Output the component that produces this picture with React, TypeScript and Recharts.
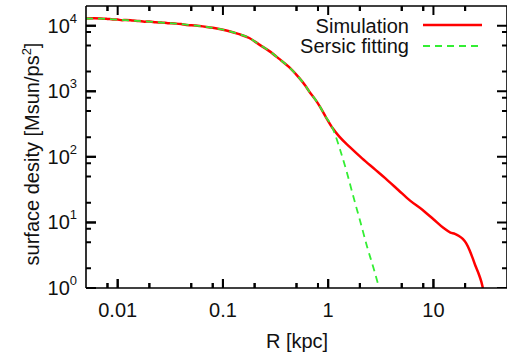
import React from "react";
import { ComposedChart, Line, Scatter, XAxis, YAxis, ReferenceLine } from "recharts";

const FONT = "'Liberation Sans', Arial, Helvetica, sans-serif";
const INK = "#111";

// surface density profile from the simulation (R in kpc)
const simR = [
  0.005, 0.006, 0.007, 0.008, 0.009, 0.01, 0.011, 0.012, 0.014, 0.016, 0.018, 0.02, 0.023, 0.026, 0.03,
  0.035, 0.04, 0.045, 0.05, 0.06, 0.07, 0.08, 0.09, 0.1, 0.115, 0.14, 0.178, 0.22, 0.276, 0.34, 0.426,
  0.53, 0.6, 0.658, 0.75, 0.84, 0.95, 1.1, 1.27, 1.6, 2.1, 2.8, 3.5, 4.66, 6, 7.9, 10, 12.5, 14.5, 16,
  17.5, 19, 20.5, 22, 23.5, 25, 26.9, 28.5, 29.5,
];
const simS = [
  12900, 13000, 12900, 12700, 12500, 12400, 12150, 12250, 12000, 11800, 11550, 11600, 11300, 11200, 10950,
  10800, 10600, 10250, 10150, 9900, 9600, 9300, 9000, 8700, 8250, 7500, 6500, 5200, 4100, 3150, 2330,
  1600, 1250, 1000, 760, 575, 405, 275, 205, 142, 95, 64, 47, 31, 21.5, 15.5, 11.2, 8.2, 7.0, 6.7,
  6.2, 5.6, 4.8, 3.8, 2.9, 2.2, 1.65, 1.25, 1.0,
];

// Sersic fit
const fitR = [
  0.005, 0.007, 0.01, 0.015, 0.02, 0.03, 0.04, 0.05, 0.07, 0.1, 0.14, 0.178, 0.22, 0.276, 0.34, 0.426,
  0.53, 0.6, 0.658, 0.75, 0.84, 0.95, 1.05, 1.15, 1.3, 1.5, 1.75, 2.0, 2.35, 2.7, 3.05,
];
const fitS = [
  12900, 12800, 12400, 11900, 11550, 11000, 10600, 10200, 9600, 8700, 7500, 6500, 5200, 4100, 3150, 2330,
  1600, 1250, 1000, 760, 575, 405, 320, 230, 127, 59, 23.5, 10.9, 4.2, 2.0, 1.0,
];

const xMajor = [0.01, 0.1, 1, 10];
const xMinor = [0.008, 0.02, 0.05, 0.08, 0.2, 0.5, 0.8, 2, 5, 8, 20];
const yMajor = [1, 10, 100, 1000, 10000];
const yMinor = [2, 5, 8, 20, 50, 80, 200, 500, 800, 2000, 5000, 8000];

const X_DOMAIN = [0.005, 50];
const Y_DOMAIN = [1, 20000];

const simData = simR.map((r, i) => ({ r, s: simS[i] }));
const fitData = fitR.map((r, i) => ({ r, s: fitS[i] }));
// tick anchors on the bottom and left edges of the box
const xTickData = [
  ...xMajor.map((r) => ({ r, s: Y_DOMAIN[0], len: 9 })),
  ...xMinor.map((r) => ({ r, s: Y_DOMAIN[0], len: 5 })),
];
const yTickData = [
  ...yMajor.map((s) => ({ r: X_DOMAIN[0], s, len: 10 })),
  ...yMinor.map((s) => ({ r: X_DOMAIN[0], s, len: 5 })),
];

const PLOT_TOP = 6;
const PLOT_RIGHT = 507;
const border = { stroke: "#000", strokeWidth: 1.6 };
const blank = () => "";

// vertical tick on bottom edge, mirrored on top edge
const XTickMark = (p: any) => {
  const { cx, cy, payload } = p;
  const len = payload.len;
  return (
    <path
      d={`M${cx},${cy}L${cx},${cy - len}M${cx},${PLOT_TOP}L${cx},${PLOT_TOP + len}`}
      stroke="#000"
      strokeWidth={2}
      fill="none"
    />
  );
};

// horizontal tick on left edge, mirrored on right edge
const YTickMark = (p: any) => {
  const { cx, cy, payload } = p;
  const len = payload.len;
  return (
    <path
      d={`M${cx},${cy}L${cx + len},${cy}M${PLOT_RIGHT},${cy}L${PLOT_RIGHT - len},${cy}`}
      stroke="#000"
      strokeWidth={2}
      fill="none"
    />
  );
};

const BottomLabel = (props: any) => {
  const { x, y, payload } = props;
  return (
    <text x={x} y={y + 29} textAnchor="middle" fontSize={20} fontFamily={FONT} fill={INK}>
      {String(payload.value)}
    </text>
  );
};

const LeftLabel = (props: any) => {
  const { x, y, payload } = props;
  return (
    <text x={x - 9} y={y + 7} textAnchor="end" fontFamily={FONT} fill={INK}>
      <tspan fontSize={20}>10</tspan>
      <tspan fontSize={13} dy={-10}>
        {Math.round(Math.log10(payload.value))}
      </tspan>
    </text>
  );
};

const XLabel = () => (
  <text x={297} y={348} textAnchor="middle" fontSize={20} fontFamily={FONT} fill={INK}>
    R [kpc]
  </text>
);

const YLabel = () => (
  <text
    x={39}
    y={154}
    transform="rotate(-90, 39, 154)"
    textAnchor="middle"
    fontSize={20}
    fontFamily={FONT}
    fill={INK}
  >
    surface desity [Msun/ps
    <tspan fontSize={13} dy={-8}>
      2
    </tspan>
    <tspan dy={8}>]</tspan>
  </text>
);

const LegendBox = () => (
  <svg width={260} height={62} style={{ position: "absolute", left: 250, top: 0, display: "block" }}>
    <text x={159} y={33} textAnchor="end" fontSize={20} fontFamily={FONT} fill={INK}>
      Simulation
    </text>
    <line x1={173} x2={232} y1={25} y2={25} stroke="#ff0000" strokeWidth={2.5} />
    <text x={159} y={53} textAnchor="end" fontSize={20} fontFamily={FONT} fill={INK}>
      Sersic fitting
    </text>
    <line x1={173} x2={232} y1={46} y2={46} stroke="#33ee33" strokeWidth={1.8} strokeDasharray="7 5" />
  </svg>
);

export default function App() {
  return (
    <div style={{ position: "absolute", left: 0, top: 0, width: 507, height: 356, background: "#fff" }}>
      <ComposedChart width={507} height={356} margin={{ top: 5, right: -1, bottom: 0, left: 0 }}>
        <XAxis
          xAxisId="bottom"
          dataKey="r"
          type="number"
          scale="log"
          domain={X_DOMAIN}
          allowDataOverflow
          ticks={xMajor}
          interval={0}
          height={68}
          tickSize={-9}
          tickMargin={9}
          tickLine={{ stroke: "#000", strokeWidth: 2 }}
          tick={<BottomLabel />}
          axisLine={border}
          label={<XLabel />}
        />
        <XAxis
          xAxisId="top"
          orientation="top"
          dataKey="r"
          type="number"
          scale="log"
          domain={X_DOMAIN}
          allowDataOverflow
          ticks={xMajor}
          interval={0}
          height={1}
          tickSize={0}
          tickLine={false}
          tickFormatter={blank}
          axisLine={border}
        />
        <YAxis
          yAxisId="left"
          dataKey="s"
          type="number"
          scale="log"
          domain={Y_DOMAIN}
          allowDataOverflow
          ticks={yMajor}
          interval={0}
          width={86}
          tickSize={-10}
          tickMargin={10}
          tickLine={{ stroke: "#000", strokeWidth: 2 }}
          tick={<LeftLabel />}
          axisLine={border}
          label={<YLabel />}
        />
        <YAxis
          yAxisId="right"
          orientation="right"
          type="number"
          scale="log"
          domain={Y_DOMAIN}
          allowDataOverflow
          ticks={yMajor}
          interval={0}
          width={1}
          tickSize={0}
          tickLine={false}
          tickFormatter={blank}
          axisLine={border}
        />
        {xMinor.map((v) => (
          <ReferenceLine
            key={`xm${v}`}
            xAxisId="bottom"
            yAxisId="left"
            x={v}
            stroke="none"
            shape={(p: any) => (
              <path
                d={`M${p.x1},${Math.max(p.y1, p.y2)}l0,-5M${p.x1},${Math.min(p.y1, p.y2)}l0,5`}
                stroke="#000"
                strokeWidth={2}
                fill="none"
              />
            )}
          />
        ))}
        <Scatter
          data={xTickData}
          xAxisId="bottom"
          yAxisId="left"
          dataKey="s"
          shape={<XTickMark />}
          isAnimationActive={false}
        />
        <Scatter
          data={yTickData}
          xAxisId="bottom"
          yAxisId="left"
          dataKey="s"
          shape={<YTickMark />}
          isAnimationActive={false}
        />
        <Line
          data={simData}
          xAxisId="bottom"
          yAxisId="left"
          dataKey="s"
          type="monotone"
          stroke="#ff0000"
          strokeWidth={2.5}
          dot={false}
          isAnimationActive={false}
        />
        <Line
          data={fitData}
          xAxisId="bottom"
          yAxisId="left"
          dataKey="s"
          type="monotone"
          stroke="#33ee33"
          strokeWidth={1.8}
          strokeDasharray="7 5"
          dot={false}
          isAnimationActive={false}
        />
      </ComposedChart>
      <LegendBox />
    </div>
  );
}
